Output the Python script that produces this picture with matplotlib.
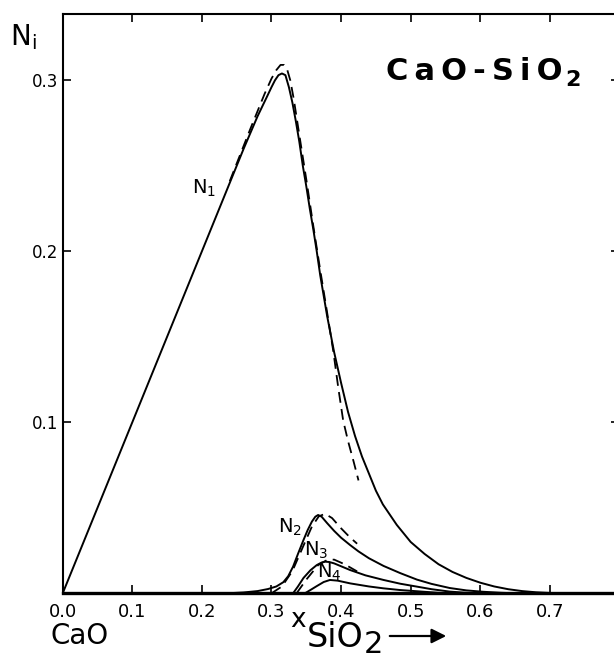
import matplotlib.pyplot as plt

plt.rcParams['font.family'] = ['DejaVu Sans']
plt.rcParams['mathtext.default'] = 'regular'

# anion fractions N_i along the CaO-SiO2 join (solid: model, dashed: second set)
n1_x = [0.0, 0.10, 0.20, 0.26, 0.28, 0.293, 0.300, 0.305, 0.310, 0.315, 0.320, 0.325,
        0.330, 0.335, 0.340, 0.345, 0.350, 0.355, 0.360, 0.365, 0.370, 0.380, 0.390,
        0.400, 0.410, 0.420, 0.430, 0.440, 0.450, 0.460, 0.470, 0.480, 0.490, 0.500,
        0.520, 0.540, 0.560, 0.580, 0.600, 0.620, 0.640, 0.660, 0.680, 0.700, 0.720]
n1_y = [0.0, 0.10, 0.20, 0.26, 0.279, 0.290, 0.296, 0.300, 0.303, 0.304, 0.303, 0.296,
        0.287, 0.276, 0.264, 0.250, 0.238, 0.225, 0.213, 0.200, 0.186, 0.162, 0.141,
        0.123, 0.106, 0.092, 0.080, 0.070, 0.060, 0.052, 0.046, 0.040, 0.035, 0.030,
        0.023, 0.017, 0.0125, 0.009, 0.0062, 0.0040, 0.0024, 0.0013, 0.0006, 0.0002, 0.0]
n1d_x = [0.24, 0.27, 0.29, 0.300, 0.307, 0.313, 0.318, 0.322, 0.327, 0.332, 0.34, 0.35,
         0.36, 0.37, 0.38, 0.389, 0.396, 0.403, 0.41, 0.418, 0.425]
n1d_y = [0.241, 0.272, 0.292, 0.301, 0.306, 0.309, 0.309, 0.307, 0.300, 0.289, 0.268,
         0.242, 0.215, 0.189, 0.164, 0.141, 0.120, 0.101, 0.089, 0.077, 0.066]

n2_x = [0.237, 0.26, 0.28, 0.295, 0.307, 0.317, 0.324, 0.331, 0.338, 0.346, 0.352,
        0.358, 0.363, 0.367, 0.372, 0.38, 0.39, 0.40, 0.413, 0.425, 0.44, 0.461, 0.485,
        0.509, 0.53, 0.556, 0.58, 0.604, 0.63, 0.65]
n2_y = [0.0, 0.0005, 0.0013, 0.0025, 0.0040, 0.0065, 0.0100, 0.0156, 0.0230, 0.0312,
        0.0370, 0.0419, 0.0448, 0.0458, 0.0448, 0.0410, 0.0365, 0.0325, 0.0282, 0.0245,
        0.0205, 0.0160, 0.0118, 0.0080, 0.0055, 0.0031, 0.0017, 0.0009, 0.0003, 0.0]
n2d_x = [0.30, 0.315, 0.33, 0.345, 0.358, 0.368, 0.377, 0.387, 0.40, 0.412, 0.423]
n2d_y = [0.0, 0.004, 0.013, 0.027, 0.039, 0.045, 0.0465, 0.044, 0.038, 0.033, 0.029]

n3_x = [0.331, 0.338, 0.346, 0.356, 0.365, 0.372, 0.377, 0.383, 0.39, 0.40, 0.413,
        0.435, 0.461, 0.485, 0.509, 0.53, 0.556, 0.58, 0.60]
n3_y = [0.0, 0.0040, 0.0090, 0.0135, 0.0165, 0.0180, 0.0185, 0.0183, 0.0175, 0.0158,
        0.0136, 0.0105, 0.0078, 0.0056, 0.0039, 0.0024, 0.0010, 0.0003, 0.0]
n3d_x = [0.336, 0.35, 0.367, 0.38, 0.39, 0.405, 0.423]
n3d_y = [0.0, 0.008, 0.0165, 0.0195, 0.0197, 0.017, 0.0128]

n4_x = [0.348, 0.357, 0.365, 0.375, 0.384, 0.395, 0.413, 0.44, 0.461, 0.485, 0.509, 0.55]
n4_y = [0.0, 0.0022, 0.0042, 0.0066, 0.0078, 0.0074, 0.0058, 0.0040, 0.0029, 0.0019,
        0.0012, 0.0]

xticks = [0.0, 0.1, 0.2, 0.3, 0.4, 0.5, 0.6, 0.7, 0.8]
xtick_labels = ['0.0', '0.1', '0.2', '0.3', '0.4', '0.5', '0.6', '0.7', '']
yticks = [0.1, 0.2, 0.3]
ytick_labels = ['0.1', '0.2', '0.3']

W, H = 614, 659


def fx(px):
    return px / W


def fy(py):
    return 1 - py / H


fig = plt.figure(figsize=(W / 100, H / 100), dpi=100)
ax = fig.add_axes([fx(62.7), fy(593.3), fx(619.5) - fx(62.7), fy(14) - fy(593.3)])

solid = dict(color='black', lw=1.4, solid_capstyle='round', solid_joinstyle='round')
dashed = dict(color='black', lw=1.3, linestyle=(0, (6, 3.5)))

ax.plot(n1_x, n1_y, **solid)
ax.plot(n2_x, n2_y, **solid)
ax.plot(n3_x, n3_y, **solid)
ax.plot(n4_x, n4_y, **solid)
ax.plot(n1d_x, n1d_y, **dashed)
ax.plot(n2d_x, n2d_y, **dashed)
ax.plot(n3d_x, n3d_y, **dashed)

ax.set_xlim(0, 0.8)
ax.set_ylim(0, (593.3 - 14) / 1710)
ax.set_xticks(xticks)
ax.set_xticklabels(xtick_labels)
ax.set_yticks(yticks)
ax.set_yticklabels(ytick_labels)
ax.tick_params(direction='in', length=6, width=1.2, top=True, right=True)
ax.tick_params(axis='x', labelsize=13, pad=7)
ax.tick_params(axis='y', labelsize=12, pad=3)
for side in ['left', 'top', 'right']:
    ax.spines[side].set_linewidth(1.5)
ax.spines['bottom'].set_linewidth(2.4)

# curve labels
ax.text(0.203, 0.237, 'N$_1$', fontsize=14, ha='center', va='center')
ax.text(0.3268, 0.0383, 'N$_2$', fontsize=14, ha='center', va='center')
ax.text(0.364, 0.0253, 'N$_3$', fontsize=14, ha='center', va='center')
ax.text(0.383, 0.0125, 'N$_4$', fontsize=14, ha='center', va='center')

# axis titles
fig.text(fx(10), fy(45), 'N$_i$', fontsize=20, ha='left', va='baseline')

title = fig.text(fx(386), fy(80), 'C\u2009a\u2009O\u2009-\u2009S\u2009i\u2009O', fontsize=22,
                 weight='bold', ha='left', va='baseline')
ax.annotate('2', xy=(1, 0), xycoords=title, xytext=(2, -3), textcoords='offset points',
            fontsize=16, weight='bold', ha='left', va='bottom', annotation_clip=False)

fig.text(fx(79.5), fy(636), 'CaO', fontsize=20, ha='center', va='center')
fig.text(fx(298), fy(620), 'x', fontsize=19, ha='center', va='center')
sio = fig.text(fx(307), fy(647), 'SiO', fontsize=24, ha='left', va='baseline')
ax.annotate('2', xy=(1, 0), xycoords=sio, xytext=(0, -3.5), textcoords='offset points',
            fontsize=22, ha='left', va='bottom', annotation_clip=False)
ax.annotate('', xy=(fx(449), fy(636)), xycoords='figure fraction',
            xytext=(fx(387), fy(636)), textcoords='figure fraction',
            arrowprops=dict(arrowstyle='-|>', lw=1.6, color='black', mutation_scale=22),
            annotation_clip=False)

fig.savefig('out.png', dpi=100)
